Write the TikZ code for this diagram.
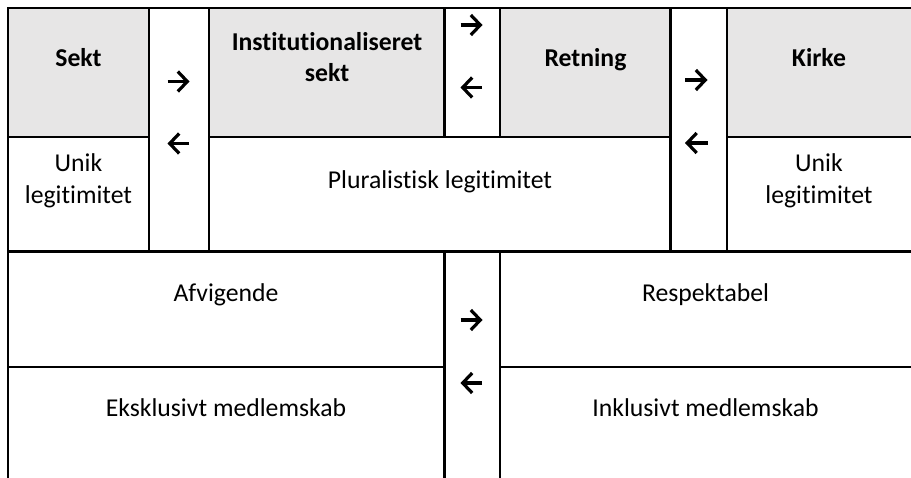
\documentclass[tikz,border=0pt]{standalone}
\usepackage{fontspec}
\setmainfont{Carlito}[Ligatures={NoCommon}]
\usetikzlibrary{arrows.meta}
\definecolor{headgray}{RGB}{231,230,230}
\tikzset{
  gridline/.style={line width=2.7pt, line cap=rect},
  headfill/.style={fill=headgray},
  lbl/.style={anchor=base, inner sep=0pt, align=center,
    font=\fontsize{25.7}{31.5}\selectfont},
  hlbl/.style={lbl, font=\fontsize{25.7}{31.5}\selectfont\bfseries},
  arr/.style={line width=3.2pt, -{Straight Barb[length=9.5pt,width=20pt,line width=3.2pt]}}
}
\begin{document}
\begin{tikzpicture}[x=1pt,y=-1pt]
\useasboundingbox (0,0) rectangle (911,478);
% gray header cells
\fill[headfill] (8,8) rectangle (149,137);
\fill[headfill] (209,8) rectangle (444.5,137);
\fill[headfill] (500,8) rectangle (670.5,137);
\fill[headfill] (727,8) rectangle (911,137);
% labels (multi-line labels are placed at the baseline of their last line)
\node[hlbl] (sekt) at (78.5,66.7) {Sekt};
\node[hlbl] (inst) at (327,81.7) {Institutionaliseret\\sekt};
\node[hlbl] (retn) at (585.5,66.7) {Retning};
\node[hlbl] (kirk) at (819,66.7) {Kirke};
\node[lbl] (unik1) at (78.5,203.3) {Unik\\legitimitet};
\node[lbl] (plur) at (440,188.3) {Pluralistisk legitimitet};
\node[lbl] (unik2) at (819,203.3) {Unik\\legitimitet};
\node[lbl] (afv) at (226,301.7) {Afvigende};
\node[lbl] (resp) at (705.5,301.7) {Respektabel};
\node[lbl] (eks) at (226,416.7) {Eksklusivt medlemskab};
\node[lbl] (inkl) at (705.5,416.7) {Inklusivt medlemskab};
% grid lines
\draw[gridline] (8,8) -- (911,8);
\draw[gridline] (8,137) -- (149,137);
\draw[gridline] (209,137) -- (670.5,137);
\draw[gridline] (727,137) -- (911,137);
\draw[gridline] (8,251.5) -- (911,251.5);
\draw[gridline] (8,367) -- (444.5,367);
\draw[gridline] (500,367) -- (911,367);
\draw[gridline] (8,8) -- (8,478);
\draw[gridline] (149,8) -- (149,251.5);
\draw[gridline] (209,8) -- (209,251.5);
\draw[gridline] (444.5,8) -- (444.5,137);
\draw[gridline] (500,8) -- (500,137);
\draw[gridline] (670.5,8) -- (670.5,251.5);
\draw[gridline] (727,8) -- (727,251.5);
\draw[gridline] (444.5,251.5) -- (444.5,478);
\draw[gridline] (500,251.5) -- (500,478);
% arrows
\coordinate (r1a) at (167.5,81.5); \coordinate (r1b) at (189.5,81.5);
\coordinate (l1a) at (189,143.5); \coordinate (l1b) at (167.5,143.5);
\coordinate (r2a) at (460.5,25); \coordinate (r2b) at (482.5,25);
\coordinate (l2a) at (482,87.5); \coordinate (l2b) at (460.5,87.5);
\coordinate (r3a) at (685,80); \coordinate (r3b) at (707.5,80);
\coordinate (l3a) at (707.5,143); \coordinate (l3b) at (685,143);
\coordinate (r4a) at (460.5,320); \coordinate (r4b) at (482.5,320);
\coordinate (l4a) at (482,383); \coordinate (l4b) at (460.5,383);
\draw[arr] (r1a) -- (r1b);
\draw[arr] (l1a) -- (l1b);
\draw[arr] (r2a) -- (r2b);
\draw[arr] (l2a) -- (l2b);
\draw[arr] (r3a) -- (r3b);
\draw[arr] (l3a) -- (l3b);
\draw[arr] (r4a) -- (r4b);
\draw[arr] (l4a) -- (l4b);
\end{tikzpicture}
\end{document}
